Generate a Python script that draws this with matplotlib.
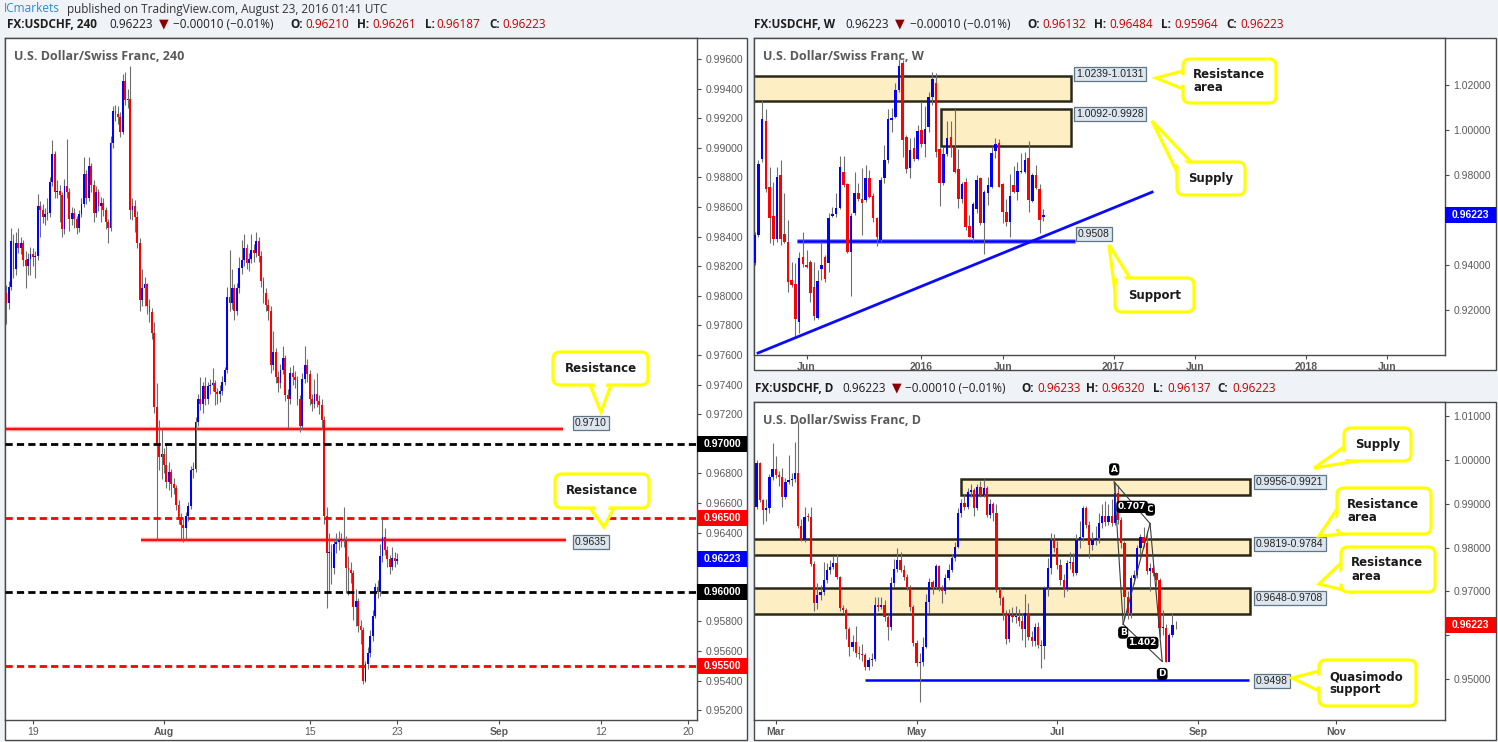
import matplotlib
matplotlib.use('Agg')
import matplotlib.pyplot as plt
from matplotlib.patches import Rectangle, FancyBboxPatch, Polygon
from matplotlib.transforms import blended_transform_factory
from matplotlib import font_manager

W, H = 1498, 742
have = {f.name for f in font_manager.fontManager.ttflist}
SANS = 'Liberation Sans' if 'Liberation Sans' in have else 'DejaVu Sans'
UI = 'Open Sans' if 'Open Sans' in have else 'DejaVu Sans'
plt.rcParams['font.family'] = [SANS, 'DejaVu Sans']

UP, DN, WICK = '#0000ff', '#ff0000', '#6e6e6e'
ZONE_FC, ZONE_EC = '#fdeec4', '#2c2818'
FRAME, TICK, BG, YEL = '#4a4a4a', '#5a5a5a', '#eff2f6', '#ffff00'

# ---------------- 4H USDCHF (bar 0 = Aug 23, six bars per trading day)
h4_first_open = 0.9802
h4_close = [
    0.9795, 0.9806, 0.9837, 0.9818, 0.9836, 0.9832, 0.9836, 0.9824, 0.9820, 0.9825,
    0.9828, 0.9826, 0.9827, 0.9861, 0.9858, 0.9853, 0.9855, 0.9856, 0.9877, 0.9896,
    0.9870, 0.9871, 0.9868, 0.9845, 0.9874, 0.9870, 0.9852, 0.9856, 0.9852, 0.9846,
    0.9855, 0.9862, 0.9882, 0.9866, 0.9888, 0.9875, 0.9856, 0.9870, 0.9861, 0.9863,
    0.9858, 0.9850, 0.9846, 0.9903, 0.9925, 0.9923, 0.9921, 0.9911, 0.9945, 0.9932,
    0.9933, 0.9858, 0.9861, 0.9853, 0.9836, 0.9797, 0.9805, 0.9808, 0.9793, 0.9789,
    0.9775, 0.9725, 0.9699, 0.9691, 0.9693, 0.9686, 0.9674, 0.9681, 0.9673, 0.9670,
    0.9659, 0.9650, 0.9645, 0.9643, 0.9651, 0.9658, 0.9682, 0.9683, 0.9715, 0.9730,
    0.9727, 0.9739, 0.9730, 0.9739, 0.9740, 0.9741, 0.9735, 0.9734, 0.9736, 0.9742,
    0.9750, 0.9799, 0.9795, 0.9805, 0.9790, 0.9805, 0.9819, 0.9824, 0.9832, 0.9822,
    0.9825, 0.9831, 0.9829, 0.9837, 0.9827, 0.9810, 0.9802, 0.9794, 0.9790, 0.9753,
    0.9762, 0.9745, 0.9741, 0.9750, 0.9758, 0.9733, 0.9730, 0.9748, 0.9745, 0.9743,
    0.9730, 0.9712, 0.9744, 0.9753, 0.9747, 0.9730, 0.9727, 0.9734, 0.9729, 0.9726,
    0.9716, 0.9651, 0.9626, 0.9627, 0.9616, 0.9632, 0.9634, 0.9635, 0.9636, 0.9635,
    0.9616, 0.9615, 0.9613, 0.9590, 0.9594, 0.9577, 0.9574, 0.9540, 0.9551, 0.9559,
    0.9570, 0.9584, 0.9603, 0.9600, 0.9624, 0.9637, 0.9628, 0.9622, 0.9617, 0.9623,
    0.96210, 0.96223]
h4_high = [
    0.9807, 0.9810, 0.9846, 0.9842, 0.9843, 0.9846, 0.9840, 0.9838, 0.9830, 0.9829,
    0.9833, 0.9832, 0.9830, 0.9869, 0.9864, 0.9862, 0.9859, 0.9866, 0.9880, 0.9905,
    0.9898, 0.9878, 0.9875, 0.9870, 0.9879, 0.9906, 0.9873, 0.9860, 0.9859, 0.9854,
    0.9858, 0.9866, 0.9894, 0.9885, 0.9894, 0.9890, 0.9878, 0.9874, 0.9872, 0.9867,
    0.9866, 0.9860, 0.9852, 0.9908, 0.9928, 0.9929, 0.9928, 0.9924, 0.9950, 0.9951,
    0.9940, 0.9955, 0.9866, 0.9865, 0.9857, 0.9839, 0.9818, 0.9813, 0.9809, 0.9798,
    0.9792, 0.9782, 0.9741, 0.9716, 0.9710, 0.9697, 0.9700, 0.9688, 0.9683, 0.9677,
    0.9672, 0.9662, 0.9653, 0.9649, 0.9654, 0.9661, 0.9685, 0.9688, 0.9718, 0.9734,
    0.9745, 0.9742, 0.9745, 0.9742, 0.9744, 0.9751, 0.9743, 0.9738, 0.9740, 0.9746,
    0.9752, 0.9806, 0.9831, 0.9818, 0.9808, 0.9809, 0.9826, 0.9838, 0.9842, 0.9835,
    0.9829, 0.9842, 0.9835, 0.9843, 0.9840, 0.9830, 0.9813, 0.9805, 0.9798, 0.9793,
    0.9776, 0.9765, 0.9749, 0.9754, 0.9766, 0.9760, 0.9737, 0.9752, 0.9753, 0.9749,
    0.9746, 0.9733, 0.9748, 0.9766, 0.9757, 0.9750, 0.9734, 0.9744, 0.9748, 0.9733,
    0.9730, 0.9719, 0.9657, 0.9640, 0.9632, 0.9636, 0.9640, 0.9641, 0.9640, 0.9657,
    0.9638, 0.9624, 0.9620, 0.9615, 0.9602, 0.9596, 0.9581, 0.9576, 0.9553, 0.9563,
    0.9574, 0.9588, 0.9606, 0.9608, 0.9632, 0.9649, 0.9643, 0.9631, 0.9625, 0.9630,
    0.9627, 0.96261]
h4_low = [
    0.9781, 0.9791, 0.9804, 0.9812, 0.9814, 0.9829, 0.9828, 0.9820, 0.9805, 0.9814,
    0.9814, 0.9820, 0.9812, 0.9824, 0.9840, 0.9849, 0.9848, 0.9851, 0.9853, 0.9874,
    0.9866, 0.9866, 0.9850, 0.9840, 0.9842, 0.9866, 0.9844, 0.9848, 0.9846, 0.9842,
    0.9843, 0.9853, 0.9860, 0.9862, 0.9864, 0.9870, 0.9850, 0.9853, 0.9857, 0.9850,
    0.9854, 0.9845, 0.9836, 0.9844, 0.9900, 0.9918, 0.9916, 0.9907, 0.9909, 0.9929,
    0.9927, 0.9852, 0.9851, 0.9843, 0.9832, 0.9790, 0.9793, 0.9793, 0.9788, 0.9782,
    0.9771, 0.9721, 0.9635, 0.9682, 0.9676, 0.9680, 0.9670, 0.9669, 0.9664, 0.9666,
    0.9655, 0.9646, 0.9636, 0.9634, 0.9636, 0.9648, 0.9656, 0.9677, 0.9681, 0.9712,
    0.9723, 0.9721, 0.9726, 0.9727, 0.9734, 0.9736, 0.9726, 0.9727, 0.9728, 0.9733,
    0.9740, 0.9748, 0.9790, 0.9791, 0.9784, 0.9787, 0.9802, 0.9815, 0.9820, 0.9818,
    0.9817, 0.9822, 0.9823, 0.9826, 0.9823, 0.9806, 0.9795, 0.9790, 0.9784, 0.9748,
    0.9750, 0.9741, 0.9735, 0.9738, 0.9747, 0.9729, 0.9711, 0.9727, 0.9740, 0.9738,
    0.9726, 0.9708, 0.9710, 0.9741, 0.9742, 0.9726, 0.9722, 0.9724, 0.9725, 0.9720,
    0.9710, 0.9646, 0.9589, 0.9600, 0.9605, 0.9612, 0.9626, 0.9628, 0.9630, 0.9630,
    0.9599, 0.9598, 0.9606, 0.9581, 0.9577, 0.9573, 0.9565, 0.9538, 0.9539, 0.9548,
    0.9556, 0.9567, 0.9582, 0.9596, 0.9597, 0.9620, 0.9625, 0.9617, 0.9612, 0.9615,
    0.9617, 0.96187]
h4_ticks = [-150, -96, -36, 0, 42, 84, 120]
h4_tick_labels = ['19', 'Aug', '15', '23', 'Sep', '12', '20']
h4_round_levels = [0.970, 0.960]
h4_half_levels = [0.965, 0.955]
h4_res_levels = [0.9710, 0.9635]

# ---------------- weekly USDCHF (bar 45 = first week of 2016)
w_open = [
    0.9407, 0.9533, 0.9870, 1.0041, 0.9748, 0.9618, 0.9514, 0.9800, 0.9536, 0.9504,
    0.9333, 0.9314, 0.9148, 0.9434, 0.9400, 0.9415, 0.9301, 0.9163, 0.9382, 0.9434,
    0.9410, 0.9618, 0.9625, 0.9655, 0.9815, 0.9760, 0.9459, 0.9630, 0.9722, 0.9693,
    0.9689, 0.9785, 0.9708, 0.9607, 0.9511, 0.9785, 0.9867, 1.0045, 1.0059, 1.0178,
    1.0296, 0.9967, 0.9830, 0.9919, 0.9873, 1.0000, 0.9938, 1.0012, 1.0148, 1.0210,
    0.9914, 0.9763, 0.9892, 0.9967, 0.9926, 0.9827, 0.9692, 0.9767, 0.9573, 0.9522,
    0.9649, 0.9785, 0.9585, 0.9722, 0.9748, 0.9908, 0.9944, 0.9760, 0.9634, 0.9593,
    0.9756, 0.9726, 0.9815, 0.9815, 0.9874, 0.9686, 0.9800, 0.9737, 0.96132]
w_high = [
    0.9548, 0.9867, 1.0133, 1.0092, 0.9837, 0.9770, 0.9837, 0.9867, 0.9719, 0.9600,
    0.9413, 0.9408, 0.9459, 0.9547, 0.9467, 0.9422, 0.9415, 0.9378, 0.9504, 0.9444,
    0.9630, 0.9659, 0.9719, 0.9884, 0.9884, 0.9766, 0.9630, 0.9815, 0.9763, 0.9833,
    0.9844, 0.9822, 0.9719, 0.9615, 0.9793, 0.9933, 1.0093, 1.0096, 1.0207, 1.0314,
    1.0311, 0.9978, 0.9963, 0.9967, 1.0022, 1.0126, 1.0107, 1.0170, 1.0259, 1.0252,
    0.9926, 0.9926, 1.0040, 1.0040, 1.0092, 0.9916, 0.9770, 0.9785, 0.9622, 0.9681,
    0.9800, 0.9793, 0.9733, 0.9793, 0.9929, 0.9963, 0.9959, 0.9763, 0.9692, 0.9804,
    0.9840, 0.9859, 0.9896, 0.9904, 0.9953, 0.9807, 0.9844, 0.9759, 0.96484]
w_low = [
    0.9400, 0.9526, 0.9859, 0.9726, 0.9496, 0.9489, 0.9504, 0.9489, 0.9496, 0.9281,
    0.9304, 0.9081, 0.9096, 0.9393, 0.9385, 0.9237, 0.9156, 0.9158, 0.9333, 0.9326,
    0.9370, 0.9615, 0.9615, 0.9648, 0.9748, 0.9452, 0.9262, 0.9622, 0.9686, 0.9533,
    0.9681, 0.9696, 0.9593, 0.9484, 0.9504, 0.9763, 0.9852, 0.9993, 1.0052, 1.0170,
    0.9881, 0.9807, 0.9788, 0.9864, 0.9867, 0.9926, 0.9881, 0.9993, 1.0111, 0.9881,
    0.9664, 0.9756, 0.9884, 0.9881, 0.9807, 0.9655, 0.9674, 0.9556, 0.9523, 0.9507,
    0.9630, 0.9578, 0.9449, 0.9667, 0.9741, 0.9874, 0.9745, 0.9585, 0.9575, 0.9526,
    0.9722, 0.9689, 0.9807, 0.9810, 0.9637, 0.9681, 0.9737, 0.9541, 0.95964]
w_close = [
    0.9533, 0.9849, 1.0049, 0.9736, 0.9607, 0.9514, 0.9793, 0.9514, 0.9504, 0.9326,
    0.9311, 0.9158, 0.9433, 0.9403, 0.9393, 0.9277, 0.9175, 0.9330, 0.9400, 0.9336,
    0.9609, 0.9625, 0.9652, 0.9837, 0.9756, 0.9456, 0.9619, 0.9722, 0.9693, 0.9674,
    0.9785, 0.9704, 0.9607, 0.9526, 0.9778, 0.9867, 1.0049, 1.0052, 1.0178, 1.0284,
    0.9956, 0.9825, 0.9911, 0.9870, 0.9996, 0.9938, 1.0004, 1.0145, 1.0225, 0.9904,
    0.9763, 0.9892, 0.9963, 0.9926, 0.9815, 0.9692, 0.9760, 0.9570, 0.9526, 0.9671,
    0.9778, 0.9585, 0.9726, 0.9756, 0.9896, 0.9938, 0.9748, 0.9637, 0.9593, 0.9707,
    0.9726, 0.9818, 0.9819, 0.9867, 0.9689, 0.9800, 0.9744, 0.9600, 0.96223]
w_ticks = [14, 45, 67, 97, 119, 149, 171]
w_tick_labels = ['Jun', '2016', 'Jun', '2017', 'Jun', '2018', 'Jun']
w_zones = [(1.0239, 1.0131), (1.0092, 0.9928)]
w_support = 0.9508
w_trend_x = [0.9, 107.4]
w_trend_y = [0.9009, 0.9724]

# ---------------- daily USDCHF (bar 0 = Aug 23)
d_first_open = 0.98935
d_close = [
    0.99924, 0.99087, 0.98859, 0.98900, 0.99620, 0.99787, 0.99658, 0.99620, 0.99163, 0.99505,
    0.99544, 0.99559, 0.99696, 0.98493, 0.98174, 0.98706, 0.98691, 0.97626, 0.96728, 0.96918,
    0.96994, 0.97260, 0.97489, 0.97565, 0.97641, 0.97321, 0.96613, 0.96575, 0.96134, 0.95738,
    0.95852, 0.95586, 0.95571, 0.95548, 0.95266, 0.95434, 0.95464, 0.96682, 0.96651, 0.96682,
    0.96410, 0.96180, 0.97184, 0.97504, 0.97717, 0.97490, 0.97321, 0.97093, 0.96651, 0.95814,
    0.95373, 0.95396, 0.95738, 0.96766, 0.97222, 0.97108, 0.97580, 0.97070, 0.97017, 0.97298,
    0.97489, 0.97755, 0.98022, 0.98782, 0.99011, 0.98935, 0.99277, 0.99320, 0.98897, 0.99391,
    0.99201, 0.99353, 0.98744, 0.98995, 0.98780, 0.97032, 0.96842, 0.96499, 0.95906, 0.96461,
    0.96408, 0.96420, 0.96332, 0.96134, 0.96499, 0.95951, 0.95875, 0.96195, 0.95776, 0.95753,
    0.97070, 0.97527, 0.98174, 0.97984, 0.97603, 0.97260, 0.97047, 0.97641, 0.97679, 0.97428,
    0.98174, 0.98250, 0.98897, 0.98516, 0.98060, 0.98174, 0.98212, 0.98554, 0.98721, 0.98592,
    0.98721, 0.98569, 0.99239, 0.98630, 0.98098, 0.96880, 0.96500, 0.97298, 0.97375, 0.97984,
    0.98235, 0.98098, 0.97474, 0.97527, 0.97428, 0.97260, 0.96157, 0.96165, 0.95396, 0.96005,
    0.96233, 0.96223]
d_high = [
    1.0000, 0.9995, 0.9912, 0.9910, 0.9968, 1.0038, 1.0008, 0.9975, 0.9981, 0.9958,
    1.0012, 0.9970, 1.0041, 1.0088, 0.9865, 0.9893, 0.9880, 0.9893, 0.9770, 0.9720,
    0.9715, 0.9768, 0.9765, 0.9772, 0.9780, 0.9785, 0.9735, 0.9670, 0.9662, 0.9618,
    0.9600, 0.9620, 0.9575, 0.9580, 0.9560, 0.9550, 0.9560, 0.9688, 0.9688, 0.9688,
    0.9680, 0.9649, 0.9734, 0.9773, 0.9798, 0.9791, 0.9761, 0.9740, 0.9715, 0.9668,
    0.9590, 0.9560, 0.9596, 0.9695, 0.9730, 0.9726, 0.9763, 0.9760, 0.9715, 0.9740,
    0.9763, 0.9785, 0.9812, 0.9890, 0.9912, 0.9923, 0.9935, 0.9945, 0.9935, 0.9946,
    0.9951, 0.9956, 0.9940, 0.9910, 0.9905, 0.9899, 0.9710, 0.9690, 0.9658, 0.9660,
    0.9665, 0.9667, 0.9660, 0.9650, 0.9695, 0.9673, 0.9610, 0.9627, 0.9630, 0.9590,
    0.9712, 0.9776, 0.9833, 0.9832, 0.9815, 0.9775, 0.9740, 0.9772, 0.9790, 0.9787,
    0.9830, 0.9860, 0.9894, 0.9896, 0.9860, 0.9835, 0.9850, 0.9880, 0.9900, 0.9907,
    0.9900, 0.9910, 0.9950, 0.9944, 0.9870, 0.9815, 0.9700, 0.9738, 0.9748, 0.9805,
    0.9832, 0.9846, 0.9839, 0.9765, 0.9761, 0.9745, 0.9730, 0.9658, 0.9625, 0.9604,
    0.9650, 0.96320]
d_low = [
    0.9887, 0.9903, 0.9855, 0.9860, 0.9880, 0.9955, 0.9960, 0.9940, 0.9893, 0.9912,
    0.9945, 0.9940, 0.9950, 0.9845, 0.9814, 0.9812, 0.9860, 0.9758, 0.9656, 0.9660,
    0.9680, 0.9692, 0.9720, 0.9740, 0.9750, 0.9728, 0.9655, 0.9650, 0.9592, 0.9553,
    0.9565, 0.9550, 0.9545, 0.9540, 0.9520, 0.9521, 0.9530, 0.9540, 0.9655, 0.9660,
    0.9632, 0.9589, 0.9612, 0.9710, 0.9745, 0.9745, 0.9725, 0.9703, 0.9655, 0.9575,
    0.9530, 0.94483, 0.9530, 0.9570, 0.9650, 0.9695, 0.9705, 0.9700, 0.9673, 0.9695,
    0.9725, 0.9745, 0.9770, 0.9800, 0.9870, 0.9885, 0.9888, 0.9915, 0.9873, 0.9885,
    0.9915, 0.9915, 0.9870, 0.9868, 0.9860, 0.9698, 0.9670, 0.9635, 0.9581, 0.9585,
    0.9630, 0.9628, 0.9620, 0.9590, 0.9574, 0.9588, 0.9575, 0.9576, 0.9570, 0.95243,
    0.9546, 0.9690, 0.9740, 0.9790, 0.9750, 0.9715, 0.9688, 0.9700, 0.9752, 0.9735,
    0.9738, 0.9800, 0.9815, 0.9845, 0.9777, 0.9795, 0.9805, 0.9810, 0.9845, 0.9850,
    0.9852, 0.9850, 0.9852, 0.9855, 0.9800, 0.9636, 0.9637, 0.9640, 0.9718, 0.9730,
    0.9785, 0.9802, 0.9740, 0.9700, 0.9735, 0.9712, 0.9595, 0.9600, 0.9538, 0.9540,
    0.9595, 0.96137]
d_ticks = [-125, -81, -37, 7, 50]
d_tick_labels = ['Mar', 'May', 'Jul', 'Sep', 'Nov']
d_zones = [(0.9956, 0.9921), (0.9819, 0.9784), (0.9648, 0.9708)]
d_qm_level = 0.9498
d_pattern_x = [-19.2, -16.4, -8.0, -4.2]
d_pattern_y = [0.9950, 0.9625, 0.9855, 0.9540]
d_pattern_names = ['A', 'B', 'C', 'D']
d_ratios = ['0.707', '1.402']

change_text = '\u22120.00010 (\u22120.01%)'

# ---------------------------------------------------------------- figure
fig = plt.figure(figsize=(W / 100, H / 100), dpi=100, facecolor=BG)
bg = fig.add_axes([0, 0, 1, 1], zorder=-5)
bg.set_xlim(0, W); bg.set_ylim(H, 0); bg.axis('off')
for fx0, fy0, fx1, fy1 in [(5, 38, 747, 740), (754, 38, 1496, 370), (754, 402, 1496, 740)]:
    bg.add_patch(Rectangle((fx0, fy0), fx1 - fx0, fy1 - fy0, fc='white', ec=FRAME, lw=1))

ov = fig.add_axes([0, 0, 1, 1], zorder=10)
ov.set_xlim(0, W); ov.set_ylim(H, 0); ov.axis('off')
ov.patch.set_alpha(0)


def panel(box, xlim, ylim, yticks, hidden, xticks, xlabels):
    x0, y0, x1, y1 = box
    ax = fig.add_axes([x0 / W, 1 - y1 / H, (x1 - x0) / W, (y1 - y0) / H])
    ax.set_facecolor('white')
    ax.set_xlim(*xlim); ax.set_ylim(*ylim)
    ax.yaxis.tick_right()
    ax.set_yticks(yticks)
    # labels sitting under a coloured price tag are not shown
    ax.set_yticklabels(['' if any(abs(v - hv) < 1e-6 for hv in hidden) else '%.5f' % v
                        for v in yticks])
    ax.set_xticks(xticks)
    ax.set_xticklabels(xlabels)
    for lab in ax.get_xticklabels():
        if not lab.get_text().isdigit() or len(lab.get_text()) == 4:
            lab.set_fontweight('bold')
    for sp in ax.spines.values():
        sp.set_color(FRAME); sp.set_linewidth(1)
    ax.tick_params(axis='both', colors=FRAME, labelcolor=TICK, labelsize=7.5,
                   length=3, width=0.8)
    ax.tick_params(axis='y', pad=3)
    ax.tick_params(axis='x', pad=2)
    return ax


def candles(ax, xs, o, h, l, c, width, min_h):
    cols = [UP if cc >= oo else DN for oo, cc in zip(o, c)]
    ax.vlines(xs, l, h, color=WICK, lw=0.8, zorder=2)
    bottoms = [min(a, b) for a, b in zip(o, c)]
    heights = [max(abs(b - a), min_h) for a, b in zip(o, c)]
    ax.bar(xs, heights, width=width, bottom=bottoms, color=cols, lw=0, zorder=3)


def axis_tag(ax, price, color, wfrac, hh):
    tr = blended_transform_factory(ax.transAxes, ax.transData)
    ax.add_patch(Rectangle((1.0, price - hh / 2), wfrac, hh, transform=tr, fc=color,
                           ec='none', clip_on=False, zorder=6))
    ax.text(1.0 + wfrac / 2, price, '%.5f' % price, transform=tr, ha='center',
            va='center', color='white', fontsize=7.5, fontweight='bold',
            clip_on=False, zorder=7)


def level_tag(x, y, text):
    ov.text(x, y, text, ha='left', va='center', fontsize=7.5, color='#222222',
            bbox=dict(boxstyle='square,pad=0.22', fc='#dde6ee', ec='#5f7687', lw=0.9),
            zorder=15)


def callout(text, box, tip, base, left=False):
    x0, y0, x1, y1 = box
    b0, b1 = base
    ov.add_patch(Polygon([b0, tip, b1], closed=True, fc='white', ec=YEL, lw=2.3,
                         joinstyle='miter', zorder=20))
    ov.add_patch(FancyBboxPatch((x0, y0), x1 - x0, y1 - y0,
                                boxstyle='round,pad=0,rounding_size=7',
                                fc='white', ec=YEL, lw=2.3, zorder=21))
    mx, my = (b0[0] + b1[0]) / 2, (b0[1] + b1[1]) / 2
    nx, ny = mx - tip[0], my - tip[1]
    nn = (nx * nx + ny * ny) ** 0.5
    nx, ny = nx / nn, ny / nn
    dx, dy = b1[0] - b0[0], b1[1] - b0[1]
    s0 = (b0[0] + 0.22 * dx, b0[1] + 0.22 * dy)
    s1 = (b1[0] - 0.22 * dx, b1[1] - 0.22 * dy)
    t2 = (mx + 0.55 * (tip[0] - mx), my + 0.55 * (tip[1] - my))
    cover = [(s0[0] + 4 * nx, s0[1] + 4 * ny), s0, t2, s1, (s1[0] + 4 * nx, s1[1] + 4 * ny)]
    ov.add_patch(Polygon(cover, closed=True, fc='white', ec='none', zorder=22))
    style = dict(va='center', fontsize=8.5, fontweight='bold', family='DejaVu Sans',
                 color='#1a1a1a', zorder=23)
    if left:
        ov.text(x0 + 10, (y0 + y1) / 2, text, ha='left', linespacing=1.0, **style)
    else:
        ov.text((x0 + x1) / 2, (y0 + y1) / 2, text, ha='center', **style)


def header(y, pieces):
    styles = {
        'b': dict(family=[UI, 'DejaVu Sans'], fontsize=8.5, fontweight='bold', color='#1e1e1e'),
        'n': dict(family=[UI, 'DejaVu Sans'], fontsize=8.5, color='#1e1e1e'),
        'r': dict(family=[UI, 'DejaVu Sans'], fontsize=8.5, color='#c40000'),
        'a': dict(family='DejaVu Sans', fontsize=9, color='#8b0000'),
    }
    for x, s, kind in pieces:
        ov.text(x, y, s, ha='left', va='center', zorder=15, **styles[kind])


# ---------------------------------------------------------------- 4H panel
n4 = len(h4_close)
h4_x = [i - (n4 - 1) for i in range(n4)]
h4_open = [h4_first_open] + h4_close[:-1]
ax4 = panel((5, 38, 697, 720), (-161.5, 123.6), (0.95134, 0.99742),
            [0.952 + 0.002 * i for i in range(23)], [0.960, 0.962, 0.970],
            h4_ticks, h4_tick_labels)
for lv in h4_round_levels:
    ax4.axhline(lv, color='black', lw=2, ls=(0, (2.6, 1.5)), zorder=4)
for lv in h4_half_levels:
    ax4.axhline(lv, color='#ff0000', lw=2, ls=(0, (2.6, 1.5)), zorder=4)
for lv, xa, xb in zip(h4_res_levels, [-170, -105.5], [68.4, 69.6]):
    ax4.plot([xa, xb], [lv, lv], color='#ff9d9d', lw=3.2, zorder=1.5, solid_capstyle='butt')
    ax4.plot([xa, xb], [lv, lv], color='#ff0000', lw=1.3, zorder=1.6, solid_capstyle='butt')
candles(ax4, h4_x, h4_open, h4_high, h4_low, h4_close, 0.75, 0.00007)
wf4 = 50 / 692
hh4 = 16 / 14800
for lv, col in [(0.970, 'black'), (0.965, '#ff0000'), (h4_close[-1], '#0000ff'),
                (0.960, 'black'), (0.955, '#ff0000')]:
    axis_tag(ax4, lv, col, wf4, hh4)
level_tag(575, 423, '%.4f' % h4_res_levels[0])
level_tag(575, 542, '%.4f' % h4_res_levels[1])

# ---------------------------------------------------------------- weekly panel
nw = len(w_close)
w_x = list(range(nw))
axw = panel((754, 38, 1445, 355), (-0.2, 186.56), (0.9000, 1.04089),
            [0.92, 0.94, 0.96, 0.98, 1.00, 1.02], [0.96], w_ticks, w_tick_labels)
for (a, b), xa in zip(w_zones, [-5, 50.3]):
    axw.add_patch(Rectangle((xa, min(a, b)), 85.5 - xa, abs(a - b), fc=ZONE_FC,
                            ec=ZONE_EC, lw=1.8, zorder=1))
axw.plot([11.4, 86.6], [w_support, w_support], color='#9c9cff', lw=3.6, zorder=1.5,
         solid_capstyle='butt')
axw.plot([11.4, 86.6], [w_support, w_support], color='#0000ff', lw=1.8, zorder=1.6,
         solid_capstyle='butt')
axw.plot(w_trend_x, w_trend_y, color='#0a0aff', lw=2, zorder=4)
candles(axw, w_x, w_open, w_high, w_low, w_close, 0.72, 0.0004)
axis_tag(axw, w_close[-1], '#0000ff', 51 / 691, 16 / 2250)
level_tag(1076, 74, '%.4f-%.4f' % w_zones[0])
level_tag(1076, 114, '%.4f-%.4f' % w_zones[1])
level_tag(1078, 234, '%.4f' % w_support)

# ---------------------------------------------------------------- daily panel
nd = len(d_close)
d_x = [i - (nd - 1) for i in range(nd)]
d_open = [d_first_open] + d_close[:-1]
axd = panel((754, 402, 1445, 720), (-131.8, 84.2), (0.94064, 1.01324),
            [0.95, 0.96, 0.97, 0.98, 0.99, 1.00, 1.01], [0.96], d_ticks, d_tick_labels)
for (a, b), xa in zip(d_zones, [-67.2, -140, -140]):
    axd.add_patch(Rectangle((xa, min(a, b)), 23.2 - xa, abs(a - b), fc=ZONE_FC,
                            ec=ZONE_EC, lw=1.8, zorder=1))
axd.plot([-97.1, 22.9], [d_qm_level, d_qm_level], color='#0000ff', lw=1.8, zorder=1.6,
         solid_capstyle='butt')
candles(axd, d_x, d_open, d_high, d_low, d_close, 0.72, 0.0002)
# harmonic ABCD drawing
pA, pB, pC, pD = list(zip(d_pattern_x, d_pattern_y))
for p, q in [(pA, pB), (pB, pC), (pC, pD), (pA, pC), (pB, pD)]:
    axd.plot([p[0], q[0]], [p[1], q[1]], color='#3c3c3c', lw=0.8, zorder=5)
tag = dict(ha='center', va='center', color='white', fontsize=6.5, fontweight='bold',
           family='DejaVu Sans', zorder=8,
           bbox=dict(boxstyle='round,pad=0.18,rounding_size=0.4', fc='black', ec='none'))
for (px_, py_), name, dy in zip(zip(d_pattern_x, d_pattern_y), d_pattern_names,
                                [9, -6, 10, -9]):
    axd.annotate(name, (px_, py_), xytext=(0, dy), textcoords='offset points', **tag)
axd.annotate(d_ratios[0], ((pA[0] + pC[0]) / 2, (pA[1] + pC[1]) / 2), xytext=(0, -3),
             textcoords='offset points', **tag)
axd.annotate(d_ratios[1], ((pB[0] + pD[0]) / 2, (pB[1] + pD[1]) / 2), xytext=(0, 0),
             textcoords='offset points', **tag)
axis_tag(axd, d_close[-1], '#ff0000', 51 / 691, 16 / 4380)
level_tag(1256, 482, '%.4f-%.4f' % d_zones[0])
level_tag(1256, 544, '%.4f-%.4f' % d_zones[1])
level_tag(1256, 598, '%.4f-%.4f' % d_zones[2])
level_tag(1256, 681, '%.4f' % d_qm_level)

# ---------------------------------------------------------------- callouts
callout('Resistance', (553, 352, 648, 385), (601, 412), [(590, 385), (611, 385)])
callout('Resistance', (555, 474, 649, 508), (604, 527), [(590, 508), (614, 508)])
callout('Resistance\narea', (1183, 59, 1276, 103), (1156, 78), [(1183, 71), (1183, 89)], left=True)
callout('Supply', (1177, 162, 1245, 195), (1152, 121), [(1177, 172), (1191, 162)])
callout('Support', (1115, 278, 1194, 312), (1109, 245), [(1115, 292), (1130, 278)])
callout('Supply', (1344, 428, 1411, 461), (1314, 468), [(1344, 447), (1357, 461)])
callout('Resistance\narea', (1337, 488, 1431, 534), (1319, 536), [(1337, 509), (1346, 534)], left=True)
callout('Resistance\narea', (1341, 547, 1435, 592), (1319, 584), [(1341, 563), (1351, 592)], left=True)
callout('Quasimodo\nsupport', (1319, 660, 1416, 706), (1292, 678), [(1319, 671), (1319, 691)], left=True)

# ---------------------------------------------------------------- titles / headers
ov.text(4, 9, 'ICmarkets', ha='left', va='center', family=[UI, 'DejaVu Sans'],
        fontsize=8.5, color='#2b8ad6', zorder=15)
ov.text(67, 9, 'published on TradingView.com, August 23, 2016 01:41 UTC', ha='left',
        va='center', family=[UI, 'DejaVu Sans'], fontsize=8.5, color='#333333', zorder=15)
f5 = '%.5f'
header(24, [(7, 'FX:USDCHF, 240', 'b'), (109, f5 % h4_close[-1], 'n'), (159, '\u25bc', 'a'),
            (173, change_text, 'n'), (290, 'O:', 'b'), (305, f5 % h4_open[-1], 'r'),
            (357, 'H:', 'b'), (372, f5 % h4_high[-1], 'r'), (425, 'L:', 'b'),
            (436, f5 % h4_low[-1], 'r'), (489, 'C:', 'b'), (502, f5 % h4_close[-1], 'r')])
header(24, [(754, 'FX:USDCHF, W', 'b'), (845, f5 % w_close[-1], 'n'), (895, '\u25bc', 'a'),
            (910, change_text, 'n'), (1027, 'O:', 'b'), (1042, f5 % w_open[-1], 'r'),
            (1094, 'H:', 'b'), (1109, f5 % w_high[-1], 'r'), (1161, 'L:', 'b'),
            (1174, f5 % w_low[-1], 'r'), (1226, 'C:', 'b'), (1240, f5 % w_close[-1], 'r')])
header(388, [(755, 'FX:USDCHF, D', 'b'), (842, f5 % d_close[-1], 'n'), (892, '\u25bc', 'a'),
             (905, change_text, 'n'), (1021, 'O:', 'b'), (1037, f5 % d_open[-1], 'r'),
             (1086, 'H:', 'b'), (1101, f5 % d_high[-1], 'r'), (1153, 'L:', 'b'),
             (1167, f5 % d_low[-1], 'r'), (1217, 'C:', 'b'), (1232, f5 % d_close[-1], 'r')])
for x, y, s in [(14, 56, 'U.S. Dollar/Swiss Franc, 240'), (763, 56, 'U.S. Dollar/Swiss Franc, W'),
                (763, 420, 'U.S. Dollar/Swiss Franc, D')]:
    ov.text(x, y, s, ha='left', va='center', family=[UI, 'DejaVu Sans'], fontsize=9,
            fontweight='bold', color='#5a5a5a', zorder=15)

fig.savefig('out.png', dpi=100, facecolor=BG)
